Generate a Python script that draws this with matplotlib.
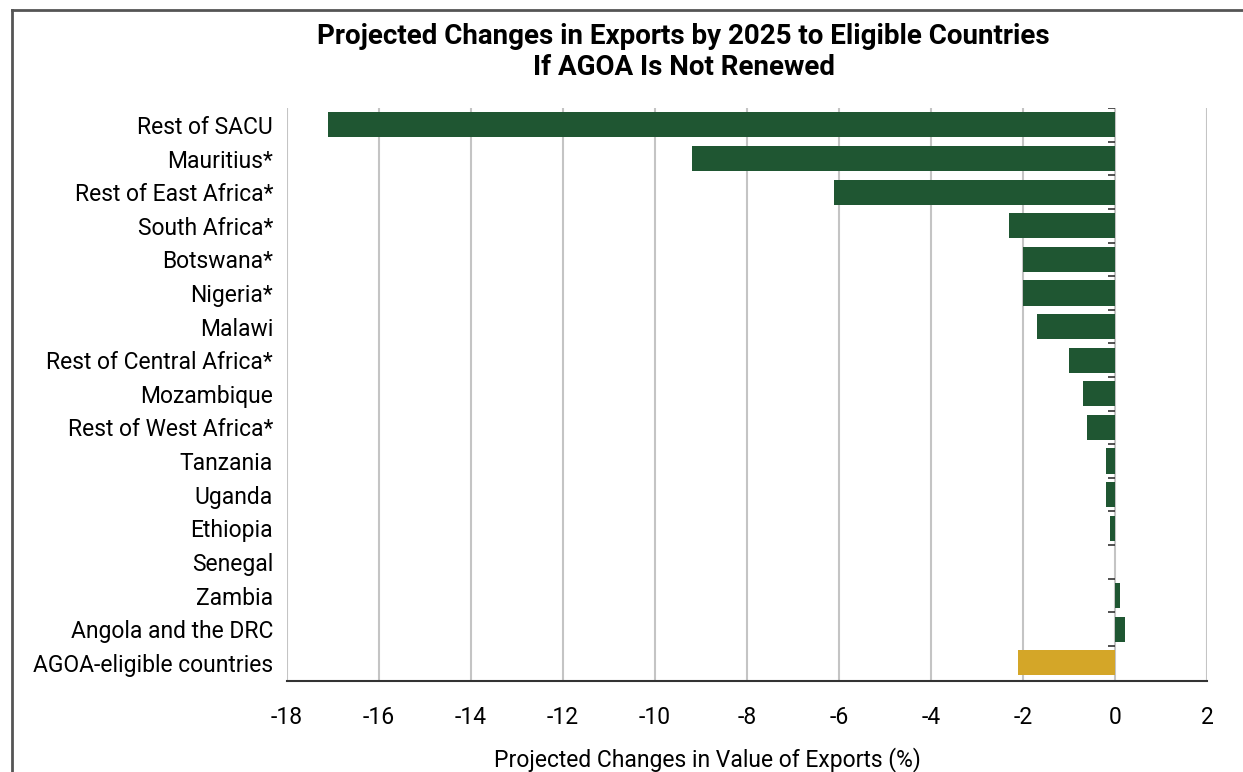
import matplotlib
matplotlib.use("Agg")
import matplotlib.pyplot as plt
from matplotlib.lines import Line2D
import numpy as np

countries = [
    "Rest of SACU", "Mauritius*", "Rest of East Africa*", "South Africa*",
    "Botswana*", "Nigeria*", "Malawi", "Rest of Central Africa*",
    "Mozambique", "Rest of West Africa*", "Tanzania", "Uganda", "Ethiopia",
    "Senegal", "Zambia", "Angola and the DRC", "AGOA-eligible countries",
]
changes = [
    -17.1, -9.2, -6.1, -2.3, -2.0, -2.0, -1.7, -1.0,
    -0.7, -0.6, -0.2, -0.2, -0.1, 0.0, 0.1, 0.22, -2.1,
]
x_ticks = list(range(-18, 3, 2))

GREEN = "#1f5632"
GOLD = "#d4a628"

plt.rcParams["font.family"] = ["Roboto", "DejaVu Sans"]

fig = plt.figure(figsize=(12.43, 7.72), dpi=100)
ax = fig.add_axes([0.2309, 0.118, 0.7402, 0.742])

y = np.arange(len(countries))
colors = [GREEN] * (len(countries) - 1) + [GOLD]
ax.barh(y, changes, height=0.75, color=colors, zorder=3)

ax.set_xlim(-18, 2)
ax.set_ylim(len(countries) - 0.46, -0.5)
ax.set_xticks(x_ticks)
ax.set_xticklabels([str(t) for t in x_ticks], fontsize=16.5)
ax.set_yticks(y)
ax.set_yticklabels(countries, fontsize=16.5)
ax.tick_params(axis="y", length=0, pad=10)
ax.tick_params(axis="x", length=0, pad=18)
ax.grid(axis="x", color="#c4c4c4", linewidth=1.5, zorder=0)

for side in ["top", "right", "left"]:
    ax.spines[side].set_visible(False)
ax.spines["bottom"].set_color("#333333")
ax.spines["bottom"].set_linewidth(1.5)

# small ticks on the zero line at category boundaries
ax.hlines(np.arange(len(countries)) - 0.5, -0.15, 0, color="#333333", linewidth=1.2, zorder=4)

ax.set_xlabel("Projected Changes in Value of Exports (%)", fontsize=16.5, labelpad=16)
ax.xaxis.set_label_coords(0.4565, -0.115)
fig.suptitle("Projected Changes in Exports by 2025 to Eligible Countries\nIf AGOA Is Not Renewed",
             fontsize=20, fontweight="bold", x=0.55, y=0.97, linespacing=1.2)

# frame around the figure (cropped at right and bottom)
fig.add_artist(Line2D([0.0097, 0.0097], [0.0, 0.987], color="#555555", linewidth=2, transform=fig.transFigure))
fig.add_artist(Line2D([0.0097, 1.0], [0.987, 0.987], color="#555555", linewidth=2, transform=fig.transFigure))

fig.savefig("out.png", dpi=100)
plt.close(fig)
